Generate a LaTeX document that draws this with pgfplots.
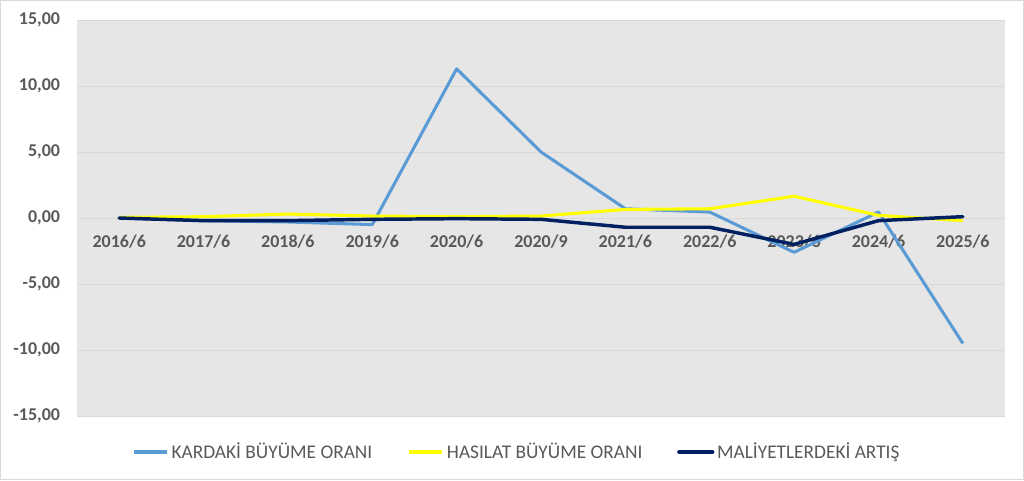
\documentclass[border=0pt]{standalone}
\usepackage{fontspec}
\setmainfont{Carlito}
\usepackage{pgfplots}
\pgfplotsset{compat=1.18}

\definecolor{kar}{HTML}{5B9BD5}
\definecolor{has}{HTML}{FFFF00}
\definecolor{mal}{HTML}{002060}
\definecolor{plotbg}{HTML}{E7E6E6}
\definecolor{gridc}{HTML}{D9D9D9}
\definecolor{tick}{HTML}{595959}

\begin{document}
\begin{tikzpicture}[x=1pt,y=1pt]
\useasboundingbox (0,0) rectangle (768,360);
\draw[gridc, line width=0.75pt] (0.4,0.4) rectangle (767.6,359.6);
\begin{axis}[
    at={(57.75pt,48pt)}, anchor=south west,
    scale only axis, width=696pt, height=297pt,
    xmin=-0.5, xmax=10.5, ymin=-15, ymax=15,
    xtick={0,...,10},
    xticklabels={2016/6,2017/6,2018/6,2019/6,2020/6,2020/9,2021/6,2022/6,2023/6,2024/6,2025/6},
    ytick={-15,-10,...,15},
    axis background/.style={fill=plotbg},
    axis line style={draw=none},
    major tick length=0pt,
    ymajorgrids, grid style={gridc, line width=0.75pt},
    ticklabel style={font=\bfseries\fontsize{13.5}{16}\selectfont, text=tick},
    xticklabel style={anchor=base, yshift=126.5pt},
    yticklabel style={anchor=east, inner sep=0pt, xshift=-12.5pt},
    yticklabel={\pgfmathprintnumber[fixed, fixed zerofill, precision=2, use comma, assume math mode=true]{\tick}},
    legend style={at={(0.474,-0.091)}, anchor=center, draw=none, fill=none,
        legend columns=3, font=\fontsize{14.5}{17}\selectfont, text=tick,
        /tikz/every even column/.append style={column sep=24pt}},
    legend cell align=left,
    legend image code/.code={\draw[#1, line width=3pt] (0pt,0pt) -- (25pt,0pt);},
]
\addplot[kar, line width=2.3pt, line join=round] coordinates {
    (0,0) (1,-0.2) (2,-0.3) (3,-0.5) (4,11.3) (5,5.0) (6,0.7) (7,0.45) (8,-2.6) (9,0.45) (10,-9.5)};
\addlegendentry{KARDAKİ BÜYÜME ORANI}
\addplot[has, line width=2.3pt, line join=round] coordinates {
    (0,0.05) (1,0.1) (2,0.3) (3,0.15) (4,0.1) (5,0.15) (6,0.65) (7,0.7) (8,1.65) (9,0.2) (10,-0.2)};
\addlegendentry{HASILAT BÜYÜME ORANI}
\addplot[mal, line width=2.6pt, line join=round, line cap=round] coordinates {
    (0,0) (1,-0.2) (2,-0.2) (3,-0.1) (4,-0.05) (5,-0.1) (6,-0.7) (7,-0.7) (8,-2.0) (9,-0.2) (10,0.1)};
\addlegendentry{MALİYETLERDEKİ ARTIŞ}
\end{axis}
\end{tikzpicture}
\end{document}
